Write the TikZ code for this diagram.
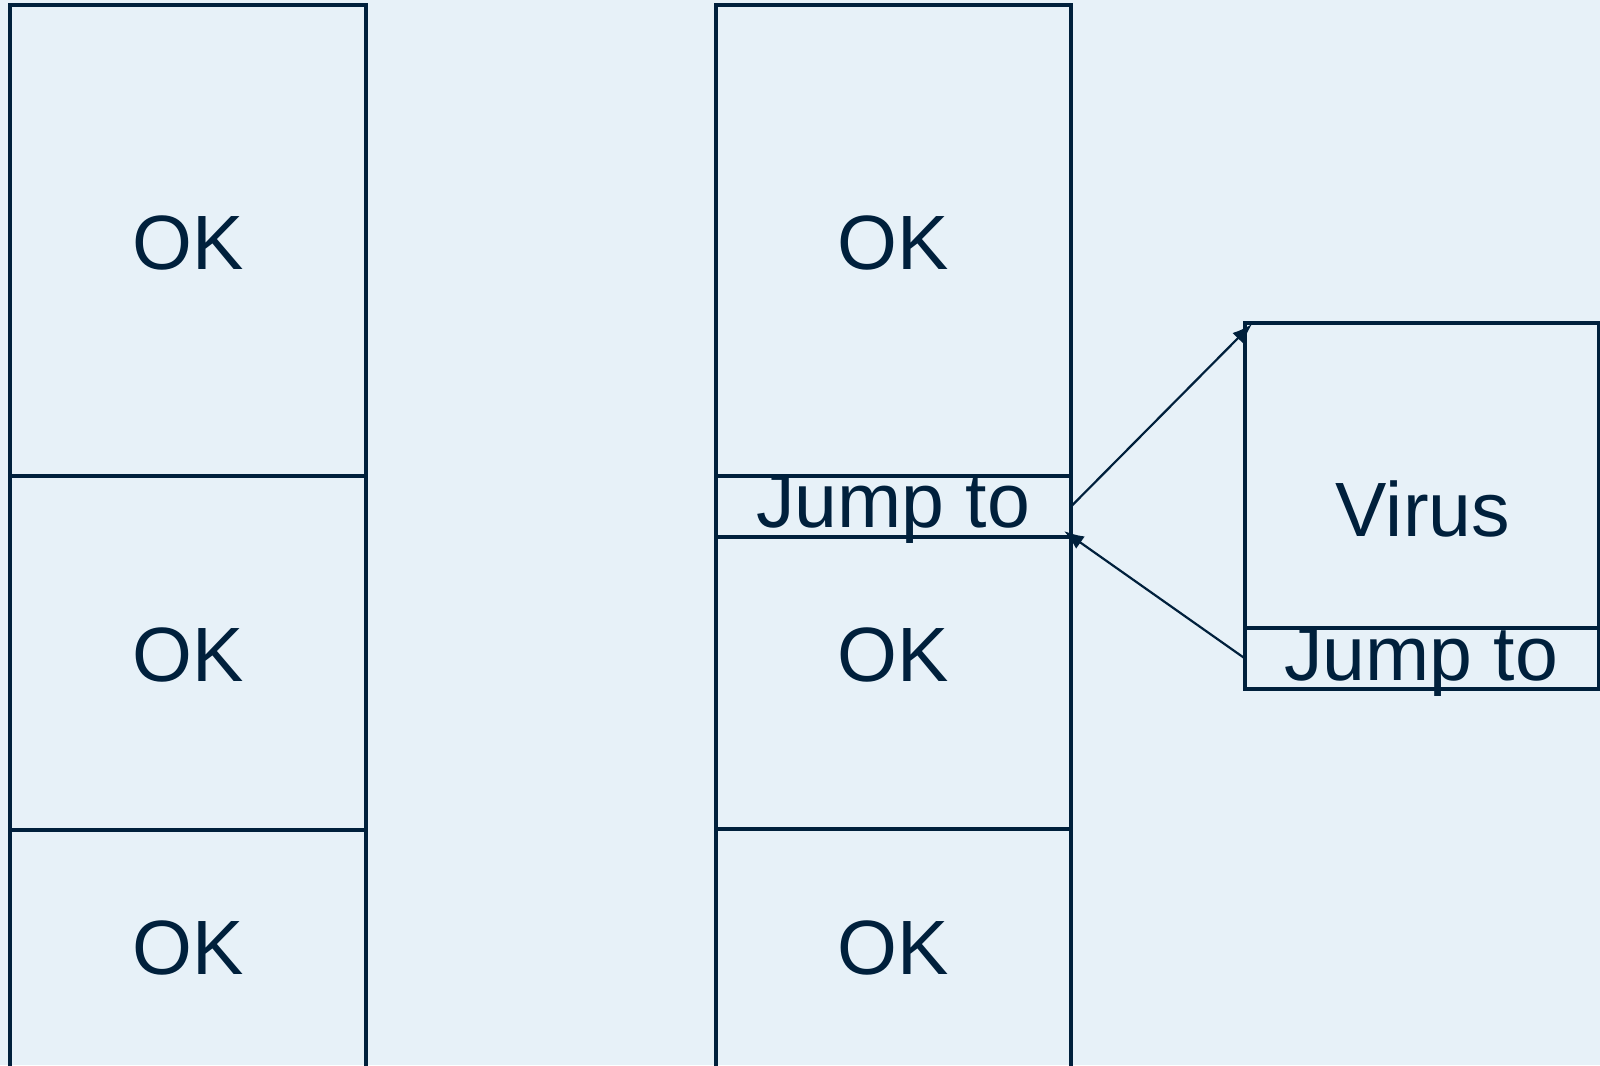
\documentclass[tikz,border=0pt]{standalone}
\usepackage{fontspec}
\setmainfont{Liberation Sans}
\usetikzlibrary{fit,arrows.meta}
\definecolor{bgc}{RGB}{231,241,248}
\definecolor{ink}{RGB}{0,32,60}
\begin{document}
\begin{tikzpicture}[x=0.5pt,y=-0.5pt,
  cell/.style={draw=ink, line width=1.7pt, inner sep=0pt, outer sep=0pt},
  lbl/.style={text=ink, font=\fontsize{38.5}{46}\selectfont, inner sep=0pt},
  conn/.style={draw=ink, line width=1.1pt, -{Latex[length=10pt,width=7.5pt]}}]
\fill[bgc] (0,0) rectangle (1600,1065);
\useasboundingbox (0,0) rectangle (1600,1065);
% left column
\node[cell, fit={(10,5)(366,476)}] (l1) {};
\node[cell, fit={(10,476)(366,830)}] (l2) {};
\node[cell, fit={(10,830)(366,1090)}] (l3) {};
\node[lbl] (tl1) at (188,243) {OK};
\node[lbl] (tl2) at (188,655) {OK};
\node[lbl] (tl3) at (188,948) {OK};
% middle column
\node[cell, fit={(716,5)(1071,476)}] (m1) {};
\node[cell, fit={(716,476)(1071,829)}] (m2) {};
\node[cell, fit={(716,829)(1071,1090)}] (m3) {};
\node[cell, fit={(716,476)(1071,537)}] (jump1) {};
\node[lbl] (tm1) at (893,243) {OK};
\node[lbl] (tj1) at (893,509) {Jump to};
\node[lbl] (tm2) at (893,655) {OK};
\node[lbl] (tm3) at (893,948) {OK};
% right box
\node[cell, fit={(1245,323)(1599,628)}] (virus) {};
\node[cell, fit={(1245,628)(1599,689)}] (jump2) {};
\node[lbl] (tv) at (1423,509) {Virus};
\node[lbl] (tj2) at (1421,662) {Jump to};
% connectors
\draw[conn] (jump1.east) -- ([shift={(7,1)}]virus.north west);
\draw[conn] (jump2.west) -- ([shift={(-7,-6)}]jump1.south east);
\end{tikzpicture}
\end{document}
